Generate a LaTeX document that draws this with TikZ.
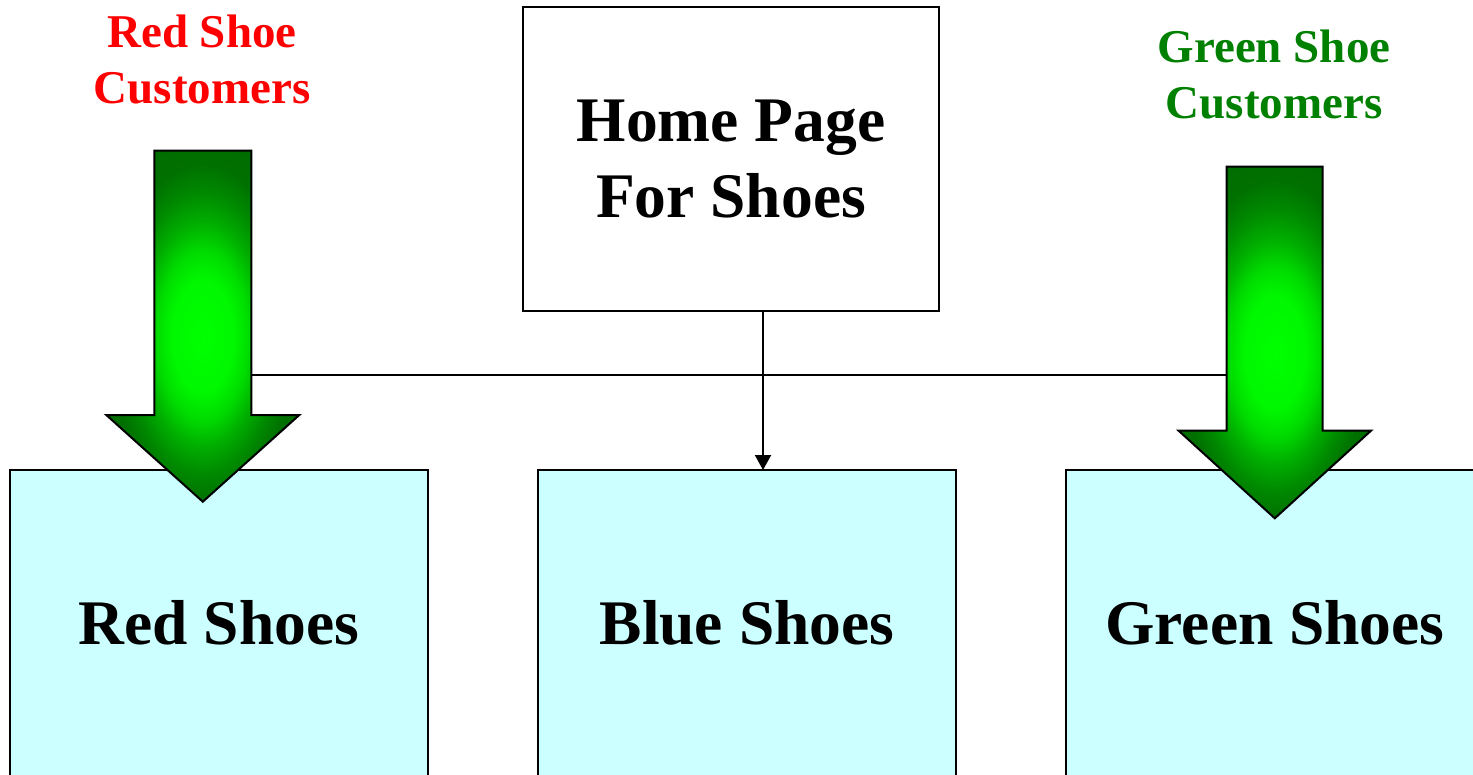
\documentclass[tikz,border=0pt]{standalone}
\usepackage{fontspec}
\setmainfont{Liberation Serif}
\usetikzlibrary{arrows.meta}
\pgfdeclareradialshading{arrowglow}{\pgfpoint{0bp}{-1.7bp}}{rgb(0bp)=(0,1,0); rgb(8bp)=(0,0.97,0); rgb(12bp)=(0,0.86,0); rgb(16bp)=(0,0.68,0); rgb(20bp)=(0,0.54,0); rgb(24bp)=(0,0.44,0); rgb(30bp)=(0,0.42,0); rgb(50bp)=(0,0.42,0)}
\definecolor{boxcyan}{HTML}{CCFFFF}
\definecolor{labelgreen}{HTML}{008000}
\definecolor{labelred}{HTML}{FF0000}
\begin{document}
\begin{tikzpicture}[x=1pt,y=-1pt,
  pagebox/.style={draw=black, line width=2pt, minimum width=416pt, minimum height=304pt, inner sep=0pt, align=center, font=\fontsize{63.5}{76}\selectfont\bfseries},
  shoebox/.style={pagebox, draw=none, fill=boxcyan},
  boxedge/.style={draw=black, line width=2pt, line join=miter},
  custlabel/.style={inner sep=0pt, align=center, font=\fontsize{47}{56}\selectfont\bfseries},
  bigarrow/.style={draw=black, line width=2pt, line join=miter, shade, shading=arrowglow},
  link/.style={draw=black, line width=2pt}]
\useasboundingbox (0,0) rectangle (1473,774);
\clip (0,0) rectangle (1473,774);
% page boxes (they run on below the lower edge of the picture)
\node[shoebox] (red) at (219,623) {Red Shoes};
\node[shoebox] (blue) at (747,623) {Blue Shoes};
\node[shoebox] (green) at (1275,623) {Green Shoes};
\foreach \b in {red,blue,green}{
  \path[fill=boxcyan] (\b.south west) rectangle ([yshift=-20pt]\b.south east);
  \draw[boxedge] ([yshift=-20pt]\b.south west) -- (\b.north west) -- (\b.north east) -- ([yshift=-20pt]\b.south east);
}
\node[pagebox] (home) at (731,159) {Home Page\\For Shoes};
% connectors
\coordinate (hl) at (202.8,375);
\coordinate (hr) at (1274.7,375);
\draw[link] (hl) -- (hr);
\coordinate (hs) at ([xshift=32pt]home.south);
\draw[link, -{Triangle[length=15pt,width=16pt]}] (hs) -- (hs |- blue.north);
% customer arrows
\path[bigarrow] (154.3,150.7) -- (251.3,150.7) -- (251.3,415) -- (299.3,415) -- (202.8,501.7) -- (106.3,415) -- (154.3,415) -- cycle;
\path[bigarrow] (1226.7,166.7) -- (1322.7,166.7) -- (1322.7,430.7) -- (1371,430.7) -- (1274.8,518.3) -- (1178.6,430.7) -- (1226.7,430.7) -- cycle;
% labels
\node[custlabel, text=labelred] (redcust) at (202,59.5) {Red Shoe\\Customers};
\node[custlabel, text=labelgreen] (greencust) at (1274,74.5) {Green Shoe\\Customers};
\end{tikzpicture}
\end{document}
